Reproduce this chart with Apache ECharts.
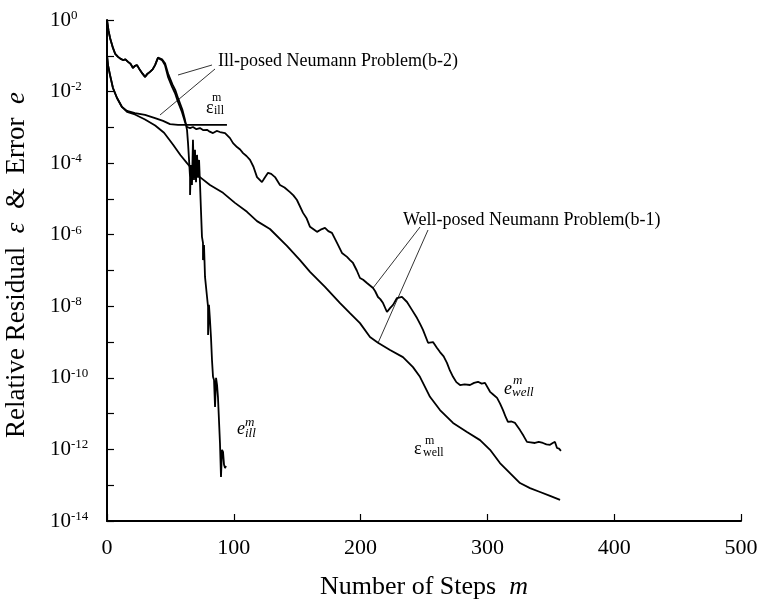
<!DOCTYPE html>
<html><head><meta charset="utf-8">
<script src="https://cdn.jsdelivr.net/npm/echarts@6/dist/echarts.min.js"></script>
<style>html,body{margin:0;padding:0;background:#fff}#c{width:761px;height:601px}</style>
</head><body><div id="c"></div>
<script>
// x ticks (Number of Steps m)
const xTicks = [0, 100, 200, 300, 400, 500];
// y range as decades (log10)
const yMinExp = -14, yMaxExp = 0;

// Each series: [m, log10(value)]
const eWell = [[0,0],[1.2,-0.30],[2.4,-0.50],[4.7,-0.78],[6.5,-0.95],[8.7,-1.03],[10.5,-1.08],[12.6,-1.12],[14.5,-1.10],[16.6,-1.17],[18.5,-1.22],[20.5,-1.34],[22.0,-1.28],[23.7,-1.26],[26.0,-1.40],[28.0,-1.50],[30.0,-1.59],[32.0,-1.50],[33.9,-1.45],[36.0,-1.38],[37.9,-1.26],[40.2,-1.06],[43.4,-1.12],[45.7,-1.26],[48.1,-1.59],[51.3,-1.87],[53.6,-2.04],[56.0,-2.29],[59.1,-2.57],[61.5,-2.85],[63.1,-2.99],[65.5,-3.02],[67.8,-2.99],[70.5,-3.05],[73.3,-3.02],[76.0,-3.08],[78.9,-3.07],[81.0,-3.12],[83.6,-3.16],[86.5,-3.10],[89.1,-3.13],[93.1,-3.16],[97.0,-3.30],[99.4,-3.44],[102.5,-3.55],[105.0,-3.62],[107.3,-3.72],[110.0,-3.80],[112.8,-3.91],[115.5,-4.10],[118.3,-4.39],[122.2,-4.53],[124.5,-4.40],[127.0,-4.27],[129.5,-4.30],[132.5,-4.39],[136.4,-4.61],[140.0,-4.68],[144.3,-4.81],[147.0,-4.90],[149.8,-5.03],[154.6,-5.39],[157.5,-5.55],[160.1,-5.78],[165.6,-5.92],[168.5,-5.86],[171.9,-5.81],[174.5,-5.90],[177.4,-5.95],[181.4,-6.23],[185.3,-6.51],[189.3,-6.62],[191.5,-6.70],[194.0,-6.79],[197.0,-7.00],[199.5,-7.21],[202.0,-7.26],[205.0,-7.35],[209.8,-7.49],[211.5,-7.58],[213.7,-7.74],[215.5,-7.80],[217.7,-7.91],[220.8,-8.16],[223.2,-8.05],[225.6,-7.96],[228.7,-7.77],[232.6,-7.74],[236.6,-7.88],[240.5,-8.10],[244.5,-8.33],[247.0,-8.50],[249.2,-8.66],[253.2,-9.02],[257.1,-9.00],[260.0,-9.15],[262.6,-9.28],[265.5,-9.40],[268.1,-9.58],[270.5,-9.80],[272.9,-9.97],[275.5,-10.12],[278.4,-10.20],[282.0,-10.18],[286.3,-10.20],[289.5,-10.14],[292.6,-10.11],[295.5,-10.16],[298.1,-10.14],[302.1,-10.39],[305.0,-10.48],[307.6,-10.56],[310.0,-10.72],[312.3,-10.90],[314.5,-11.10],[316.2,-11.23],[319.0,-11.22],[321.8,-11.26],[325.7,-11.46],[328.5,-11.62],[331.2,-11.79],[334.0,-11.80],[337.5,-11.82],[340.5,-11.79],[343.8,-11.82],[346.5,-11.86],[349.4,-11.87],[351.5,-11.82],[353.3,-11.79],[354.9,-11.96],[356.5,-11.98],[358.0,-12.04]];

const eIll = [[0,0],[1.2,-0.30],[2.4,-0.50],[4.7,-0.78],[6.5,-0.95],[8.7,-1.03],[10.5,-1.08],[12.6,-1.12],[14.5,-1.10],[16.6,-1.17],[18.5,-1.22],[20.5,-1.34],[22.0,-1.28],[23.7,-1.26],[26.0,-1.40],[28.0,-1.50],[30.0,-1.59],[32.0,-1.50],[33.9,-1.45],[36.0,-1.38],[37.9,-1.26],[40.2,-1.05],[43.4,-1.10],[45.9,-1.22],[48.4,-1.52],[51.6,-1.80],[54.0,-1.97],[56.4,-2.22],[59.4,-2.50],[61.5,-2.79],[63.1,-3.07],[63.9,-3.44],[64.7,-3.91],[65.5,-4.39],[65.5,-4.89],[66.2,-4.05],[67.0,-4.61],[67.8,-3.35],[68.6,-4.47],[69.4,-3.63],[70.2,-4.53],[71.0,-3.77],[71.8,-4.41],[72.6,-3.91],[73.3,-4.53],[74.1,-5.31],[74.9,-6.06],[75.7,-6.23],[75.7,-6.71],[76.5,-6.29],[77.3,-7.18],[78.9,-7.74],[79.7,-8.02],[79.7,-8.80],[80.4,-7.96],[81.2,-8.38],[82.0,-8.86],[82.8,-9.50],[83.6,-9.97],[84.4,-10.06],[85.2,-10.81],[86.0,-10.0],[86.8,-10.2],[87.5,-10.53],[89.1,-11.82],[89.9,-12.77],[90.7,-12.01],[91.5,-12.07],[92.3,-12.43],[93.1,-12.52],[93.8,-12.46]];

const resWell = [[0,-0.98],[0.8,-1.26],[2.4,-1.54],[4.7,-1.90],[7.9,-2.18],[11.8,-2.43],[15.8,-2.57],[22.0,-2.64],[30.0,-2.78],[38.0,-2.95],[45.0,-3.15],[52.0,-3.48],[58.0,-3.78],[63.1,-4.00],[68.0,-4.20],[73.3,-4.39],[81.2,-4.61],[91.5,-4.83],[100.9,-5.11],[110.4,-5.36],[118.3,-5.62],[128.5,-5.84],[141.9,-6.31],[152.2,-6.71],[160.1,-7.04],[171.9,-7.46],[183.8,-7.91],[191.6,-8.19],[199.5,-8.47],[207.4,-8.86],[213.7,-9.02],[223.2,-9.22],[233.4,-9.42],[241.3,-9.70],[246.8,-9.97],[254.7,-10.53],[262.6,-10.90],[272.9,-11.26],[283.9,-11.51],[294.2,-11.74],[302.1,-12.01],[309.9,-12.38],[317.8,-12.66],[325.7,-12.94],[333.6,-13.08],[341.5,-13.19],[349.4,-13.30],[357.3,-13.41]];

const resIll = [[0,-0.98],[0.8,-1.26],[2.4,-1.54],[4.7,-1.90],[7.9,-2.18],[11.8,-2.43],[15.8,-2.54],[22.1,-2.60],[30.0,-2.65],[37.9,-2.74],[44.2,-2.82],[49.7,-2.91],[56.0,-2.93],[94.6,-2.93]];

const toPts = a => a.map(p => [p[0], Math.pow(10, p[1])]);
const serif = '"Liberation Serif","DejaVu Serif",serif';

const chart = echarts.init(document.getElementById('c'), null, {renderer: 'canvas'});
const lineS = (name, d) => ({
  name, type: 'line', data: toPts(d), showSymbol: false, symbol: 'none',
  lineStyle: {color: '#000', width: 1.8}, animation: false, z: 3
});

function txt(text, x, y, size, opts) {
  opts = opts || {};
  return {
    type: 'text', x: x, y: y, z: 10, rotation: opts.rotation || 0,
    style: Object.assign({
      text: text, fill: '#000', fontFamily: serif, fontSize: size,
      fontStyle: opts.italic ? 'italic' : 'normal',
      textAlign: opts.align || 'left', align: opts.align || 'left',
      textVerticalAlign: 'middle', verticalAlign: 'middle'
    }, opts.extra || {})
  };
}
function ln(x1, y1, x2, y2) {
  return {type: 'line', z: 10, shape: {x1, y1, x2, y2}, style: {stroke: '#000', lineWidth: 0.8}};
}

chart.setOption({
  animation: false,
  backgroundColor: '#fff',
  grid: {left: 107, right: 20, top: 20, bottom: 80, containLabel: false},
  xAxis: {
    type: 'value', min: xTicks[0], max: xTicks[xTicks.length - 1], interval: 100,
    axisLine: {show: true, lineStyle: {color: '#000', width: 2}},
    axisTick: {show: true, inside: true, length: 7, lineStyle: {color: '#000', width: 1.2}},
    splitLine: {show: false},
    axisLabel: {color: '#000', fontFamily: serif, fontSize: 22, margin: 16}
  },
  yAxis: {
    type: 'log', logBase: 10, min: Math.pow(10, yMinExp), max: Math.pow(10, yMaxExp), interval: 1,
    axisLine: {show: true, lineStyle: {color: '#000', width: 2}},
    axisTick: {show: true, inside: true, length: 7, lineStyle: {color: '#000', width: 1.2}},
    splitLine: {show: false},
    axisLabel: {
      align: 'left', margin: 57, color: '#000',
      formatter: function (v) {
        const n = Math.round(Math.log10(v));
        if (n % 2 !== 0) return '';
        return '{b|10}{s|' + (n === 0 ? 0 : n) + '}';
      },
      rich: {
        b: {fontFamily: serif, fontSize: 21, lineHeight: 22, color: '#000'},
        s: {fontFamily: serif, fontSize: 13, lineHeight: 15, verticalAlign: 'top', color: '#000'}
      }
    }
  },
  series: [lineS('e_well', eWell), lineS('e_ill', eIll), lineS('res_well', resWell), lineS('res_ill', resIll)],
  graphic: [
    txt('Relative Residual  {i|ε}  &  Error  {i|e}', 17, 265, 27, {align: 'center', rotation: Math.PI / 2,
      extra: {rich: {i: {fontFamily: serif, fontSize: 27, fontStyle: 'italic', fill: '#000', color: '#000'}}}}),
    txt('Number of Steps  {i|m}', 424, 587, 26, {align: 'center',
      extra: {rich: {i: {fontFamily: serif, fontSize: 26, fontStyle: 'italic', fill: '#000', color: '#000'}}}}),
    txt('Ill-posed Neumann Problem(b-2)', 218, 61, 18),
    txt('Well-posed Neumann Problem(b-1)', 403, 220, 18),
    ln(212, 65, 178, 75), ln(215, 69, 160, 115),
    ln(420, 227, 373, 288), ln(428, 230, 378, 343),
    // eps_ill
    txt('ε', 206, 108, 18), txt('m', 212, 98, 12), txt('ill', 214, 111, 12),
    // e_ill
    txt('e', 237, 429, 18, {italic: true}), txt('m', 245, 423, 13, {italic: true}), txt('ill', 245, 434, 13, {italic: true}),
    // e_well
    txt('e', 504, 389, 18, {italic: true}), txt('m', 513, 381, 13, {italic: true}), txt('well', 512, 393, 13, {italic: true}),
    // eps_well
    txt('ε', 414, 449, 18), txt('m', 425, 441, 12), txt('well', 423, 453, 12)
  ]
});
</script></body></html>
